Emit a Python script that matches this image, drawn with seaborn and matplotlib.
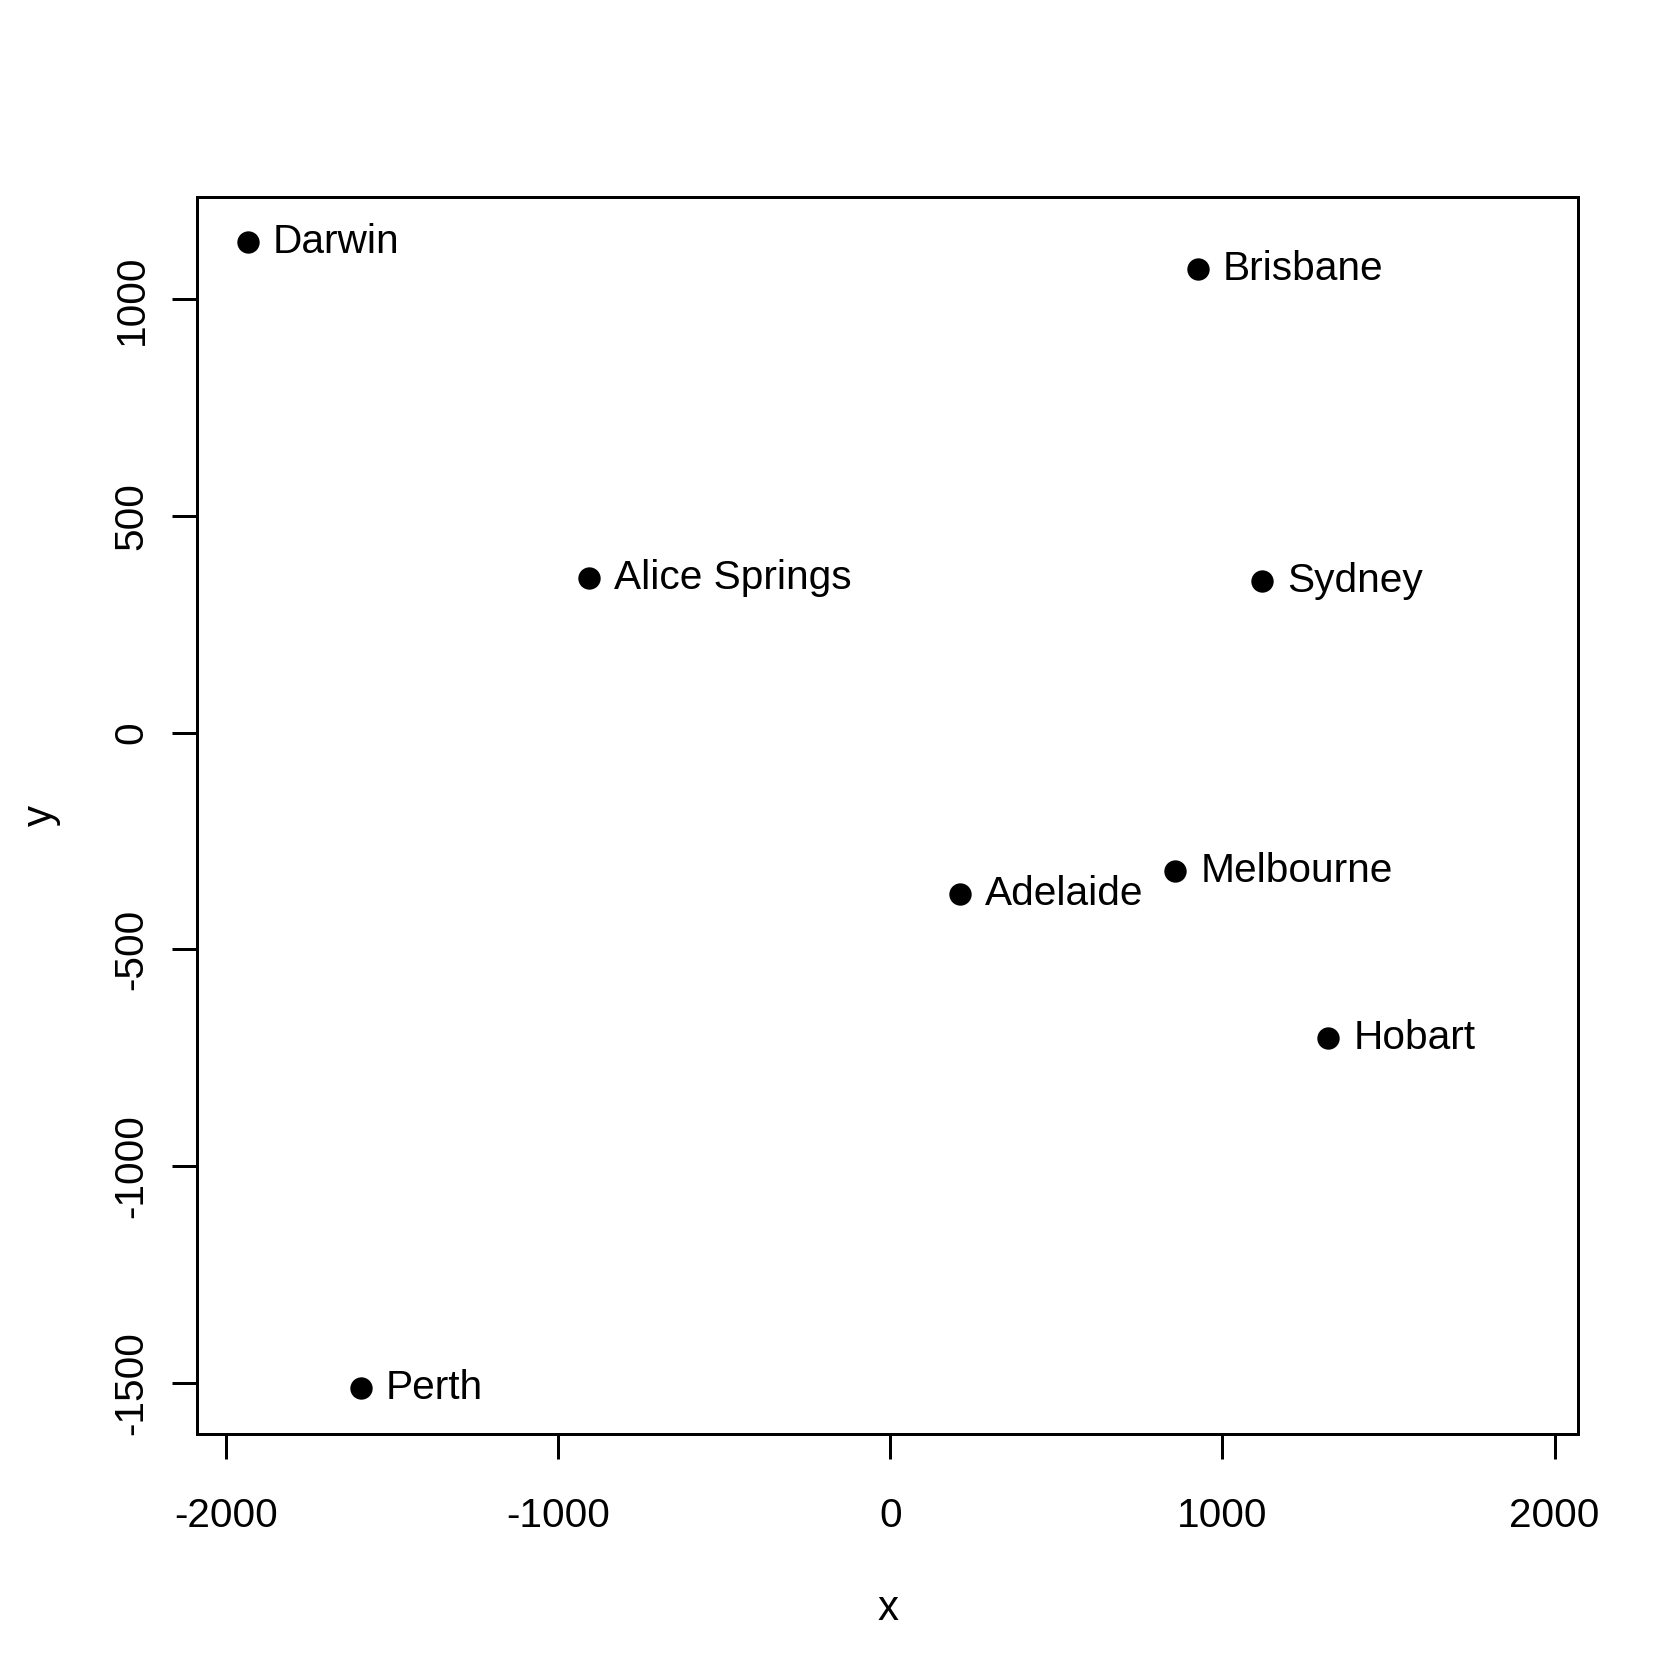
import matplotlib
matplotlib.use("Agg")
import matplotlib.pyplot as plt
import seaborn as sns
import pandas as pd

cities = ["Adelaide", "Alice Springs", "Brisbane", "Darwin", "Hobart", "Melbourne", "Perth", "Sydney"]
x_vals = [210, -906, 926, -1935, 1319, 858, -1594, 1119]
y_vals = [-371, 356, 1071, 1132, -705, -319, -1513, 351]
x_ticks = [-2000, -1000, 0, 1000, 2000]
y_ticks = [-1500, -1000, -500, 0, 500, 1000]

df = pd.DataFrame({"city": cities, "x": x_vals, "y": y_vals})

sns.set_theme(style="white")
plt.rcParams["font.family"] = ["Liberation Sans", "DejaVu Sans"]

fig = plt.figure(figsize=(7, 7), dpi=240)
ax = fig.add_axes([0.1173, 0.1467, 0.9394 - 0.1173, 0.8827 - 0.1467])

sns.scatterplot(data=df, x="x", y="y", ax=ax, s=45, color="black", edgecolor="black", linewidth=0, legend=False)
for c, xv, yv in zip(df["city"], df["x"], df["y"]):
    ax.annotate(c, (xv, yv), xytext=(7.5, 0), textcoords="offset points",
                ha="left", va="center", fontsize=12.2, color="black")

ax.set_xlim(-2087, 2071)
ax.set_ylim(-1617, 1236)
ax.set_xticks(x_ticks)
ax.set_yticks(y_ticks)
ax.set_xticklabels([str(t) for t in x_ticks])
ax.set_yticklabels([str(t) for t in y_ticks], rotation=90, va="center")
ax.tick_params(axis="both", which="major", direction="out", length=7.5, width=0.9,
               color="black", labelsize=12.2, labelcolor="black", bottom=True, left=True,
               top=False, right=False)
ax.tick_params(axis="x", pad=11.5)
ax.tick_params(axis="y", pad=6.5)
for sp in ax.spines.values():
    sp.set_visible(True)
    sp.set_color("black")
    sp.set_linewidth(0.9)

ax.set_xlabel("x", fontsize=12.6, color="black")
ax.set_ylabel("y", fontsize=12.6, color="black")
ax.xaxis.set_label_coords(0.5, -0.142)
ax.xaxis.label.set_va("center")
ax.yaxis.set_label_coords(-0.113, 0.5)
ax.yaxis.label.set_va("center")

fig.savefig("out.png", dpi=240, facecolor="white")
